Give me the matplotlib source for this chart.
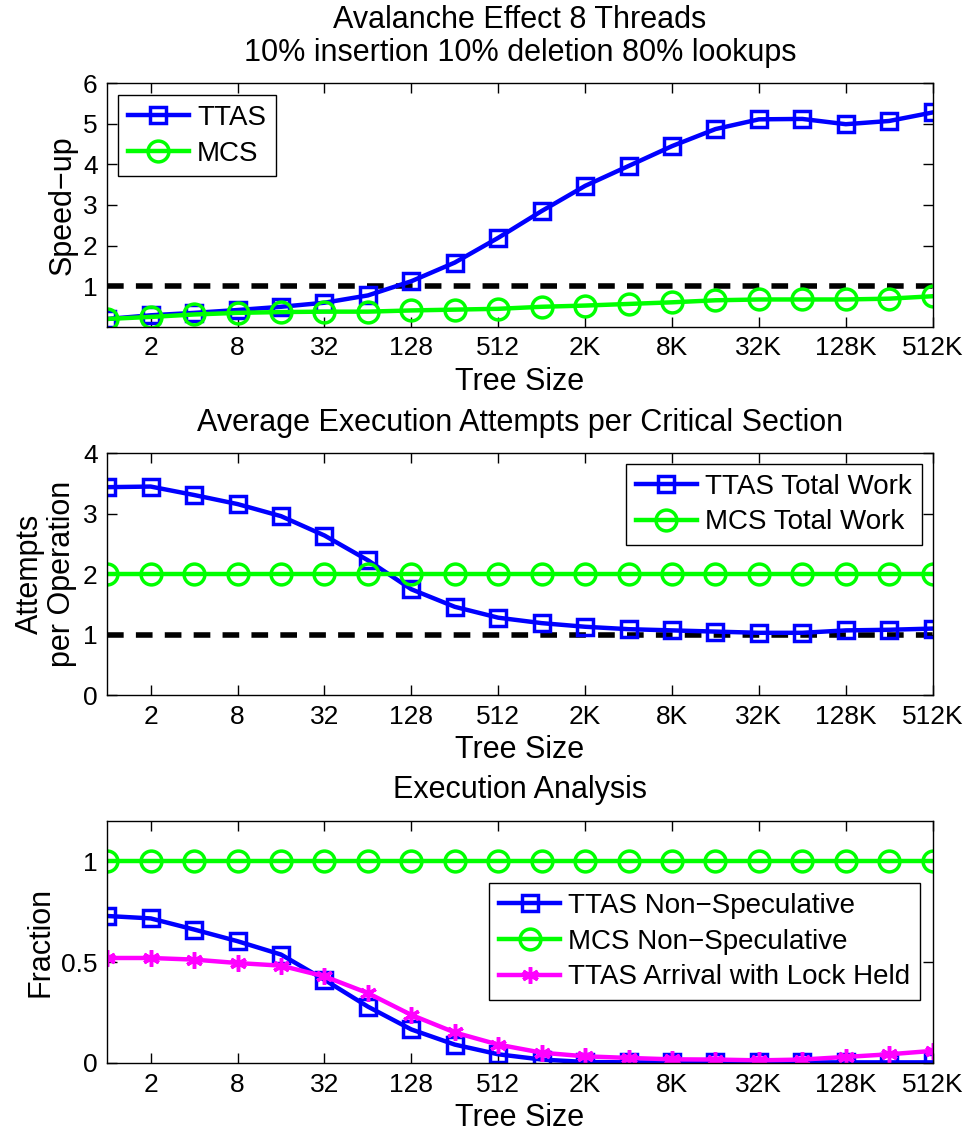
import matplotlib
matplotlib.use("Agg")
import matplotlib.pyplot as plt

plt.rcParams['font.family'] = ['Liberation Sans', 'DejaVu Sans']

# tree sizes 1 .. 512K (powers of two), plotted at equal spacing
sizes = [2 ** i for i in range(20)]
tick_labels = ['2', '8', '32', '128', '512', '2K', '8K', '32K', '128K', '512K']

# speed-up
ttas_speedup = [0.19, 0.28, 0.34, 0.41, 0.49, 0.59, 0.77, 1.12, 1.58, 2.19,
                2.85, 3.47, 3.96, 4.45, 4.87, 5.11, 5.12, 4.99, 5.07, 5.28]
mcs_speedup = [0.19, 0.24, 0.30, 0.34, 0.36, 0.37, 0.37, 0.40, 0.42, 0.44,
               0.49, 0.52, 0.56, 0.60, 0.65, 0.67, 0.67, 0.67, 0.69, 0.75]

# attempts per operation
ttas_attempts = [3.44, 3.45, 3.31, 3.16, 2.96, 2.64, 2.23, 1.75, 1.46, 1.28,
                 1.19, 1.13, 1.09, 1.07, 1.05, 1.03, 1.03, 1.07, 1.08, 1.10]
mcs_attempts = [2.0] * 20

# execution analysis
ttas_nonspec = [0.728, 0.716, 0.661, 0.603, 0.537, 0.412, 0.279, 0.166, 0.091, 0.043,
                0.017, 0.005, 0.003, 0.003, 0.003, 0.003, 0.003, 0.003, 0.003, 0.003]
mcs_nonspec = [1.0] * 20
ttas_arrival = [0.52, 0.52, 0.512, 0.495, 0.482, 0.429, 0.346, 0.238, 0.151, 0.091,
                0.051, 0.033, 0.025, 0.018, 0.017, 0.013, 0.017, 0.03, 0.043, 0.06]

x = list(range(len(sizes)))
ticks = x[1::2]

fig = plt.figure(figsize=(9.69, 11.37), dpi=100)
left, width = 0.1107, 0.8518
ax1 = fig.add_axes([left, 0.7127, width, 0.2141])
ax2 = fig.add_axes([left, 0.3887, width, 0.2126])
ax3 = fig.add_axes([left, 0.0651, width, 0.2131])

lw = 3.2
ms = 12
legend_kw = dict(borderaxespad=0, fontsize=20, fancybox=False, edgecolor='k',
                 framealpha=1, handlelength=2.2, borderpad=0.35, labelspacing=0.35,
                 handletextpad=0.3)

def style(ax):
    ax.set_xlim(0, 19)
    ax.set_xticks(ticks)
    ax.set_xticklabels(tick_labels)
    ax.tick_params(direction='in', top=True, right=True, length=7, width=1,
                   labelsize=19, pad=7)
    ax.set_xlabel('Tree Size', fontsize=22, labelpad=4.5)
    for s in ax.spines.values():
        s.set_linewidth(1)

# top
ax1.plot(x, [1] * 20, 'k--', lw=4, dashes=(3, 2.2))
ax1.plot(x, ttas_speedup, '-s', color='b', lw=lw, ms=ms, mfc='none', mew=2.5, label='TTAS')
ax1.plot(x, mcs_speedup, '-o', color='#00ff00', lw=lw, ms=ms + 3, mfc='none', mew=2.5, label='MCS')
ax1.set_ylim(0, 6)
ax1.set_yticks([1, 2, 3, 4, 5, 6])
style(ax1)
ax1.set_ylabel('Speed\u2212up', fontsize=22)
ax1.set_title('Avalanche Effect 8 Threads\n10% insertion 10% deletion 80% lookups',
              fontsize=22, pad=16, linespacing=1.12)
ax1.legend(loc='upper left', bbox_to_anchor=(0.013, 0.951), **legend_kw)

# middle
ax2.plot(x, [1] * 20, 'k--', lw=4, dashes=(3, 2.2))
ax2.plot(x, ttas_attempts, '-s', color='b', lw=lw, ms=ms, mfc='none', mew=2.5, label='TTAS Total Work')
ax2.plot(x, mcs_attempts, '-o', color='#00ff00', lw=lw, ms=ms + 3, mfc='none', mew=2.5, label='MCS Total Work')
ax2.set_ylim(0, 4)
ax2.set_yticks([0, 1, 2, 3, 4])
style(ax2)
ax2.set_ylabel('Attempts\nper Operation', fontsize=22, linespacing=1.1)
ax2.set_title('Average Execution Attempts per Critical Section', fontsize=22, pad=16)
ax2.legend(loc='upper right', bbox_to_anchor=(0.987, 0.956), **legend_kw)

# bottom
ax3.plot(x, ttas_nonspec, '-s', color='b', lw=lw, ms=ms, mfc='none', mew=2.5,
         label='TTAS Non\u2212Speculative')
ax3.plot(x, mcs_nonspec, '-o', color='#00ff00', lw=lw, ms=ms + 3, mfc='none', mew=2.5,
         label='MCS Non\u2212Speculative')
ax3.plot(x, ttas_arrival, '-', marker=(6, 2, 0), color='#ff00ff', lw=lw, ms=ms, mew=2.5,
         label='TTAS Arrival with Lock Held')
ax3.set_ylim(0, 1.2)
ax3.set_yticks([0, 0.5, 1])
ax3.set_yticklabels(['0', '0.5', '1'])
style(ax3)
ax3.set_ylabel('Fraction', fontsize=22)
ax3.set_title('Execution Analysis', fontsize=22, pad=16)
ax3.legend(loc='lower right', bbox_to_anchor=(0.985, 0.26), **legend_kw)

fig.savefig('out.png', dpi=100)
